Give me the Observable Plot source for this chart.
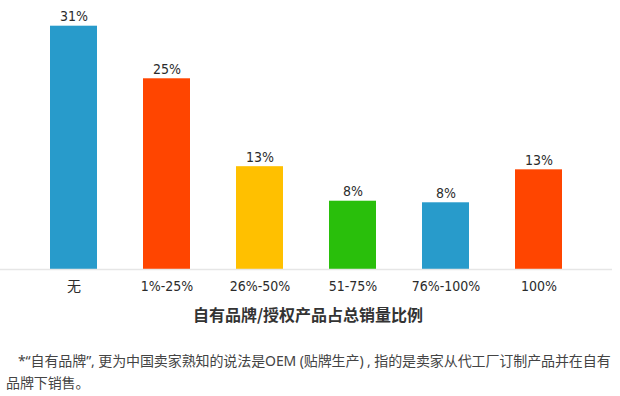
<!DOCTYPE html>
<html>
<head>
<meta charset="utf-8">
<script src="https://cdn.jsdelivr.net/npm/d3@7"></script>
<script src="https://cdn.jsdelivr.net/npm/@observablehq/plot@0.6"></script>
<style>
  html, body { margin: 0; padding: 0; background: #fff; }
  body { width: 620px; height: 396px; overflow: hidden; font-family: "Noto Sans", "Noto Sans CJK SC", sans-serif; }
  #chart svg { display: block; }
  #chart svg text { font-stretch: condensed; }
  #title { margin-top: 8px; text-align: center; font-family: "Noto Sans CJK SC", sans-serif; font-size: 16px; line-height: 20px; font-weight: bold; color: #333; padding-right: 4px; }
  #note { margin-top: 26px; font-size: 14px; line-height: 22px; color: #444; padding-left: 6px; white-space: nowrap; letter-spacing: -0.1px; }
  #note .l1 { padding-left: 12px; }
</style>
</head>
<body>
<div id="chart"></div>
<div id="title"></div>
<div id="note"></div>
<script>
const categories = ["无", "1%-25%", "26%-50%", "51-75%", "76%-100%", "100%"];
const values = [31, 24.3, 13.1, 8.7, 8.5, 12.7];
const valueLabels = ["31%", "25%", "13%", "8%", "8%", "13%"];
const barColors = ["#289bcb", "#ff4500", "#ffc000", "#29bf0b", "#289bcb", "#ff4500"];
const axisTitle = "自有品牌/授权产品占总销量比例";
const noteLines = [
  "*“自有品牌”, 更为中国卖家熟知的说法是OEM (贴牌生产) , 指的是卖家从代工厂订制产品并在自有",
  "品牌下销售。"
];

const data = categories.map((c, i) => ({cat: c, value: values[i], label: valueLabels[i], color: barColors[i]}));
const narrow = "'DejaVu Sans Condensed', 'DejaVu Sans', 'Noto Sans CJK SC', sans-serif";

const chart = Plot.plot({
  width: 620,
  height: 296,
  marginTop: 0,
  marginLeft: 0,
  marginRight: 8,
  marginBottom: 27,
  style: {fontFamily: narrow, fontSize: "14px", color: "#2b2b2b", background: "transparent"},
  x: {domain: categories, range: [2.3, 609.4], padding: 0.5, label: null},
  y: {domain: [0, 31], range: [269, 25.7], axis: null},
  marks: [
    Plot.barY(data, {x: "cat", y: "value", fill: "color"}),
    Plot.ruleY([0], {stroke: "#e6e6e6", strokeWidth: 1.5}),
    Plot.text(data, {x: "cat", y: "value", text: "label", lineAnchor: "bottom", dy: -5, fill: "#2b2b2b", fontSize: 14}),
    Plot.axisX({tickSize: 0, tickPadding: 12, fontSize: 14, fill: "#2b2b2b", label: null})
  ]
});
document.getElementById("chart").appendChild(chart);
document.getElementById("title").textContent = axisTitle;
const note = document.getElementById("note");
noteLines.forEach((t, i) => {
  const d = document.createElement("div");
  d.textContent = t;
  if (i === 0) d.className = "l1";
  note.appendChild(d);
});
</script>
</body>
</html>
